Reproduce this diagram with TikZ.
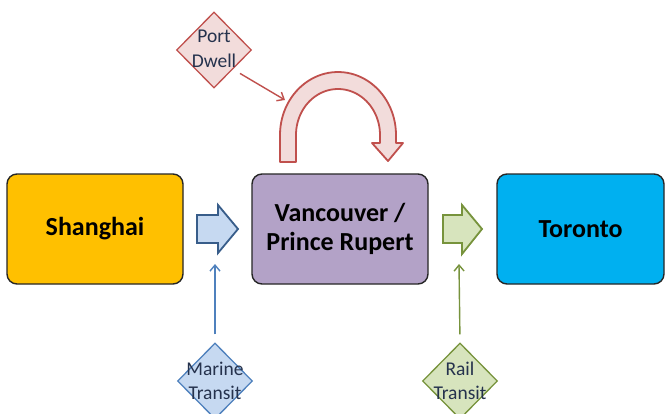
\documentclass[tikz,border=0pt]{standalone}
\usepackage{fontspec}
\setmainfont{Carlito}
\usetikzlibrary{arrows.meta,shapes.geometric,calc}
\definecolor{shy}{HTML}{FFC000}
\definecolor{vanp}{HTML}{B3A2C7}
\definecolor{torb}{HTML}{00B0F0}
\definecolor{bluef}{HTML}{C6D9F1}
\definecolor{blued}{HTML}{4F81BD}
\definecolor{bluedd}{HTML}{385D8A}
\definecolor{greenf}{HTML}{D7E4BD}
\definecolor{greend}{HTML}{77933C}
\definecolor{redf}{HTML}{F2DCDB}
\definecolor{redd}{HTML}{C0504D}
\definecolor{dtext}{HTML}{25324D}
\begin{document}
\begin{tikzpicture}[x=1pt,y=-1pt,
  city/.style={draw=black!85, line width=1.4pt, rounded corners=10pt, minimum height=110pt, inner sep=0pt,
    font=\fontsize{26}{29}\selectfont\bfseries, text=black, align=center},
  dia/.style={shape=diamond, draw, line width=1.3pt, minimum width=75pt, minimum height=76pt, inner sep=0pt},
  dlabel/.style={font=\fontsize{19.5}{24.5}\selectfont, text=dtext, align=center, inner sep=0pt},
  conn/.style={line width=1.4pt, -{Straight Barb[length=6pt,width=10pt]}},
  blockarrow/.style={line width=1.8pt, line join=miter}
]
\clip (0,0) rectangle (665,413);
\fill[white] (0,0) rectangle (665,413);

% city boxes
\node[city, fill=shy, minimum width=176pt] (sh) at (95,229) {Shanghai};
\node[city, fill=vanp, minimum width=176pt] (van) at (340,229) {Vancouver /\\Prince Rupert};
\node[city, fill=torb, minimum width=167pt] (tor) at (580.5,229) {Toronto};

% block arrows
\draw[blockarrow, draw=bluedd, fill=bluef] (197,215) -- (218,215) -- (218,205) -- (238,229) -- (218,253) -- (218,243) -- (197,243) -- cycle;
\coordinate (baBot) at (215,264);
\draw[blockarrow, draw=greend, fill=greenf] (443,215) -- (462,215) -- (462,205) -- (482,229) -- (462,254) -- (462,243) -- (443,243) -- cycle;
\coordinate (gaBot) at (459,264);

% U-turn arrow (port dwell)
\draw[blockarrow, draw=redd, fill=redf, line join=round] (280,162) -- (280,135)
  -- plot[domain=180:0, samples=50] ({338+58*cos(\x)},{135-63*sin(\x)})
  -- (396,143) -- (403,143) -- (388,161) -- (372,143) -- (380,143)
  -- plot[domain=0:180, samples=50] ({338+42*cos(\x)},{135-46*sin(\x)})
  -- (296,162) -- cycle;
\coordinate (uBot) at (285,100);

% diamonds
\node[dia, draw=redd, fill=redf] (pd) at (214,50) {};
\node[dlabel] (pdl) at (214,49) {Port\\Dwell};
\node[dia, draw=blued, fill=bluef] (mt) at (215,381) {};
\node[dlabel] (mtl) at (215,381) {Marine\\Transit};
\node[dia, draw=greend, fill=greenf] (rt) at (460,381) {};
\node[dlabel] (rtl) at (460,381) {Rail\\Transit};

% connectors
\draw[conn, draw=redd, shorten <=8pt] ($(pd.east)!0.5!(pd.south)$) -- (uBot);
\draw[conn, draw=blued, shorten <=8pt] (mt.north) -- (baBot);
\draw[conn, draw=greend, shorten <=8pt] (rt.north) -- (gaBot);
\end{tikzpicture}
\end{document}
